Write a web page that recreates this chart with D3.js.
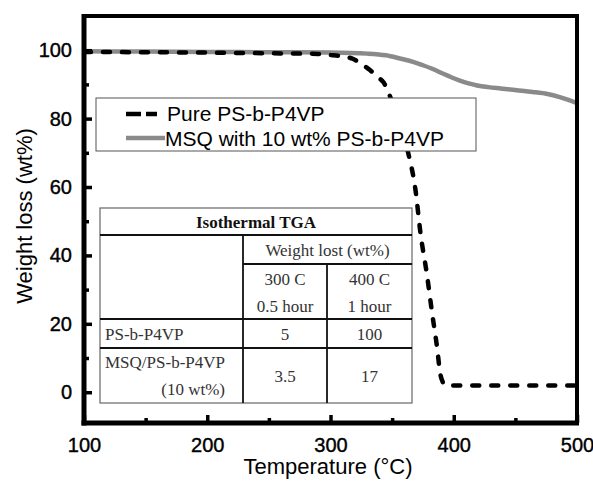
<!DOCTYPE html>
<html>
<head>
<meta charset="utf-8">
<script src="https://cdn.jsdelivr.net/npm/d3@7"></script>
<style>
  body { margin: 0; background: #fff; }
  svg { display: block; }
</style>
</head>
<body>
<svg id="chart" width="593" height="484"></svg>
<script>
// ---- data ----
const pureTemp   = [100, 150, 200, 250, 290, 302, 310, 318, 325, 332, 338, 343, 348, 355, 363, 369, 373, 378, 382.5, 386.5, 389, 391, 393, 400, 450, 500];
const pureWeight = [99.5, 99.4, 99.3, 99.1, 98.9, 98.5, 98.2, 97.5, 96, 94.2, 92.2, 90.6, 86.8, 79, 70, 59, 46.5, 35, 23, 13, 5.5, 3, 2.1, 2, 2, 2];
const msqTemp    = [100, 150, 200, 250, 300, 330, 345, 357, 367, 375, 383, 391, 398, 405, 412, 419, 428, 438, 451, 464, 476, 486, 493, 500];
const msqWeight  = [99.7, 99.6, 99.5, 99.4, 99.3, 99, 98.5, 97.5, 96.6, 95.6, 94.5, 93.2, 92.1, 91.1, 90.3, 89.7, 89.2, 88.8, 88.3, 87.8, 87.2, 86.3, 85.5, 84.5];

const xTicks = [100, 200, 300, 400, 500];
const yTicks = [0, 20, 40, 60, 80, 100];
const xMinor = [150, 250, 350, 450];
const yMinor = [10, 30, 50, 70, 90];

const legendLabels = ["Pure PS-b-P4VP", "MSQ with 10 wt% PS-b-P4VP"];

const tableTitle = "Isothermal TGA";
const tableHead = "Weight lost (wt%)";
const tableCond = [["300 C", "0.5 hour"], ["400 C", "1 hour"]];
const tableRows = [
  { name: ["PS-b-P4VP"], values: ["5", "100"] },
  { name: ["MSQ/PS-b-P4VP", "(10 wt%)"], values: ["3.5", "17"] }
];

// ---- layout ----
const svg = d3.select("#chart");
const margin = { top: 16, right: 16, bottom: 61, left: 84 };
const width = 593, height = 484;

const x = d3.scaleLinear().domain([100, 500]).range([margin.left, width - margin.right]);
const y = d3.scaleLinear().domain([-9, 110]).range([height - margin.bottom, margin.top]);

const sans = "Liberation Sans, Arial, sans-serif";
const serif = "Liberation Serif, Times New Roman, serif";

svg.append("clipPath").attr("id", "plot")
  .append("rect")
  .attr("x", margin.left).attr("y", margin.top)
  .attr("width", x.range()[1] - margin.left)
  .attr("height", y.range()[0] - margin.top);

const line = d3.line()
  .x(d => x(d[0]))
  .y(d => y(d[1]))
  .curve(d3.curveMonotoneX);

const plot = svg.append("g").attr("clip-path", "url(#plot)");

plot.append("path")
  .datum(d3.zip(msqTemp, msqWeight))
  .attr("d", line)
  .attr("fill", "none")
  .attr("stroke", "#8a8a8a")
  .attr("stroke-width", 4.5);

plot.append("path")
  .datum(d3.zip(pureTemp, pureWeight))
  .attr("d", line)
  .attr("fill", "none")
  .attr("stroke", "#000")
  .attr("stroke-width", 4.5)
  .attr("stroke-linecap", "round")
  .attr("stroke-dasharray", "7,12");

// ---- legend ----
const lg = svg.append("g").attr("transform", "translate(96,98)");
lg.append("rect")
  .attr("width", 380).attr("height", 53)
  .attr("fill", "#fff").attr("stroke", "#555").attr("stroke-width", 1);
lg.append("line")
  .attr("x1", 30).attr("x2", 61).attr("y1", 16).attr("y2", 16)
  .attr("stroke", "#000").attr("stroke-width", 4.5).attr("stroke-dasharray", "15,5");
lg.append("line")
  .attr("x1", 30).attr("x2", 69).attr("y1", 40).attr("y2", 40)
  .attr("stroke", "#8a8a8a").attr("stroke-width", 4.5);
lg.selectAll("text.lab")
  .data(legendLabels)
  .join("text")
  .attr("class", "lab")
  .attr("x", (d, i) => i === 0 ? 71 : 69)
  .attr("y", (d, i) => 23 + i * 25)
  .attr("font-family", sans)
  .attr("font-size", 21)
  .text(d => d);

// ---- table ----
const tb = svg.append("g").attr("font-family", serif).attr("font-size", 17).attr("fill", "#333");
const tx = [100, 243, 327, 412];
const ty = [208, 235, 264, 319, 348, 403];
tb.append("rect")
  .attr("x", tx[0]).attr("y", ty[0])
  .attr("width", tx[3] - tx[0]).attr("height", ty[5] - ty[0])
  .attr("fill", "#fff").attr("stroke", "#666").attr("stroke-width", 1.2);
const seg = [
  [tx[0], ty[1], tx[3], ty[1]],
  [tx[1], ty[2], tx[3], ty[2]],
  [tx[0], ty[3], tx[3], ty[3]],
  [tx[0], ty[4], tx[3], ty[4]],
  [tx[1], ty[1], tx[1], ty[5]],
  [tx[2], ty[2], tx[2], ty[5]]
];
tb.selectAll("line").data(seg).join("line")
  .attr("x1", d => d[0]).attr("y1", d => d[1])
  .attr("x2", d => d[2]).attr("y2", d => d[3])
  .attr("stroke", "#111").attr("stroke-width", 1.8);

tb.append("text").attr("x", (tx[0] + tx[3]) / 2).attr("y", 228)
  .attr("text-anchor", "middle").attr("font-weight", "bold").attr("fill", "#111").text(tableTitle);
tb.append("text").attr("x", (tx[1] + tx[3]) / 2).attr("y", 256)
  .attr("text-anchor", "middle").text(tableHead);
tableCond.forEach((c, i) => {
  const cx = (tx[i + 1] + tx[i + 2]) / 2;
  c.forEach((t, j) => {
    tb.append("text").attr("x", cx).attr("y", 285 + j * 27)
      .attr("text-anchor", "middle").text(t);
  });
});
tableRows.forEach((r, i) => {
  const top = ty[3 + i], bot = ty[4 + i];
  if (r.name.length === 1) {
    tb.append("text").attr("x", 105).attr("y", (top + bot) / 2 + 6).text(r.name[0]);
  } else {
    tb.append("text").attr("x", 105).attr("y", top + 20).text(r.name[0]);
    tb.append("text").attr("x", 225).attr("y", top + 47).attr("text-anchor", "end").text(r.name[1]);
  }
  r.values.forEach((v, j) => {
    tb.append("text").attr("x", (tx[j + 1] + tx[j + 2]) / 2).attr("y", (top + bot) / 2 + 6)
      .attr("text-anchor", "middle").text(v);
  });
});

// ---- frame & ticks ----
const x0 = x.range()[0], x1 = x.range()[1];
const y0 = y.range()[0], y1 = y.range()[1];
svg.append("rect")
  .attr("x", x0).attr("y", y1).attr("width", x1 - x0).attr("height", y0 - y1)
  .attr("fill", "none").attr("stroke", "#000").attr("stroke-width", 4);
svg.append("line").attr("x1", x0).attr("x2", x0).attr("y1", y1 - 2).attr("y2", y0 + 2.5)
  .attr("stroke", "#000").attr("stroke-width", 5);
svg.append("line").attr("x1", x0 - 2.5).attr("x2", x1 + 2).attr("y1", y0).attr("y2", y0)
  .attr("stroke", "#000").attr("stroke-width", 5);

const xAxis = svg.append("g").attr("transform", `translate(0,${y0})`)
  .call(d3.axisBottom(x).tickValues(xTicks).tickSize(-8).tickPadding(15).tickFormat(d3.format("d")))
  .call(g => g.select(".domain").remove());
xAxis.selectAll(".tick line").attr("stroke-width", 3.5);
xAxis.selectAll(".tick text").attr("font-family", sans).attr("font-size", 20)
  .attr("fill", "#000").attr("stroke", "#000").attr("stroke-width", 0.4);

svg.append("g").attr("transform", `translate(0,${y0})`)
  .call(d3.axisBottom(x).tickValues(xMinor).tickSize(-5).tickFormat(""))
  .call(g => g.select(".domain").remove())
  .selectAll(".tick line").attr("stroke-width", 3.5);

const yAxis = svg.append("g").attr("transform", `translate(${x0},0)`)
  .call(d3.axisLeft(y).tickValues(yTicks).tickSize(-8).tickPadding(12).tickFormat(d3.format("d")))
  .call(g => g.select(".domain").remove());
yAxis.selectAll(".tick line").attr("stroke-width", 3.5);
yAxis.selectAll(".tick text").attr("font-family", sans).attr("font-size", 20)
  .attr("fill", "#000").attr("stroke", "#000").attr("stroke-width", 0.4);

svg.append("g").attr("transform", `translate(${x0},0)`)
  .call(d3.axisLeft(y).tickValues(yMinor).tickSize(-5).tickFormat(""))
  .call(g => g.select(".domain").remove())
  .selectAll(".tick line").attr("stroke-width", 3.5);

// ---- axis titles ----
svg.append("text")
  .attr("x", 328).attr("y", 474)
  .attr("text-anchor", "middle")
  .attr("font-family", sans).attr("font-size", 22)
  .text("Temperature (°C)");
svg.append("text")
  .attr("transform", "translate(32,216) rotate(-90)")
  .attr("text-anchor", "middle")
  .attr("font-family", sans).attr("font-size", 22)
  .text("Weight loss (wt%)");
</script>
</body>
</html>
